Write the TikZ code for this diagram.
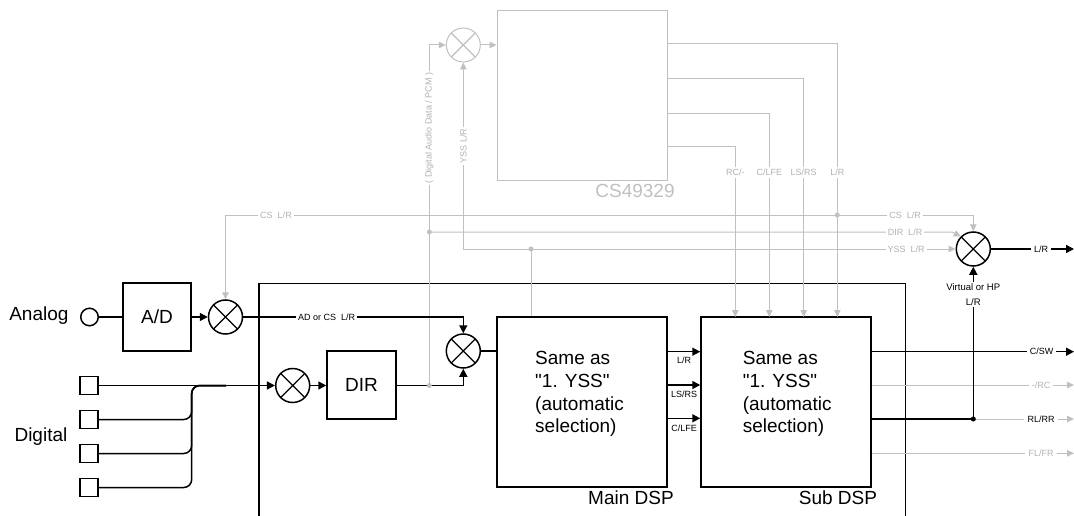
\documentclass[tikz,border=0pt]{standalone}
\usepackage{fontspec}
\setmainfont{Liberation Sans}
\font\qfont="Liberation Sans" at 19pt
\newcommand\sq{{\qfont"}}
\usetikzlibrary{arrows.meta,calc}
\definecolor{lg}{RGB}{192,192,192}
\definecolor{lgt}{RGB}{178,178,178}
\begin{document}
\begin{tikzpicture}[x=1pt,y=-1pt,
  blk/.style={line width=1.5pt,black},
  gry/.style={line width=1pt,lg},
  barr/.style={-{Triangle[length=8pt,width=8pt]}},
  garr/.style={-{Triangle[length=7pt,width=6.5pt]}},
  mixer/.style={circle,draw=#1,line width=1.5pt,minimum size=34pt,inner sep=0pt,
    path picture={\draw[#1,line width=1.3pt]
      (path picture bounding box.north west)--(path picture bounding box.south east)
      (path picture bounding box.north east)--(path picture bounding box.south west);}},
  mixer/.default=black,
  gmixer/.style={mixer=lg,line width=1pt},
  box/.style={draw,line width=1.5pt,inner sep=0pt},
  big/.style={font=\fontsize{19}{22.7}\selectfont},
  small/.style={font=\fontsize{9}{10.5}\selectfont},
  lbl/.style={small,inner sep=3pt},
  flbl/.style={small,fill=white,inner sep=2pt},
  glbl/.style={small,fill=white,inner sep=2pt,text=lgt},
  gdot/.style={circle,fill=lg,inner sep=0pt,minimum size=5pt},
  bdot/.style={circle,fill=black,inner sep=0pt,minimum size=5pt},
]
\useasboundingbox (0,0) rectangle (1074,516);

% ---------- nodes ----------
\node[big,anchor=east] (analog) at (72,316) {Analog};
\node[big,anchor=west] (digital) at (11,437) {Digital};
\node[circle,draw,line width=1.5pt,minimum size=17.5pt,inner sep=0pt] (an) at (89.5,317) {};
\node[box,big,minimum width=68pt,minimum height=68pt] (ad) at (157,317) {A/D};
\node[box,minimum size=18pt] (s1) at (89,385.5) {};
\node[box,minimum size=18pt] (s2) at (89,419.5) {};
\node[box,minimum size=18pt] (s3) at (89,453.5) {};
\node[box,minimum size=18pt] (s4) at (89,487.5) {};

\node[mixer] (m1) at (225.5,317) {};
\node[mixer] (m3) at (292.7,385.5) {};
\node[mixer] (m2) at (463.3,351) {};
\node[gmixer] (mg) at (463.3,45) {};
\node[mixer] (mf) at (973.3,249) {};

\node[box,big,minimum width=69pt,minimum height=68pt] (dir) at (361.5,385) {DIR};
\node[box,minimum width=170pt,minimum height=170pt] (main) at (582,402) {};
\node[box,minimum width=170pt,minimum height=170pt] (sub) at (786,402) {};
\node[box,draw=lg,line width=1pt,minimum width=170pt,minimum height=170pt] (cs) at (582,96) {};

\node[big,align=left,anchor=west] (maint) at (531.7,394) {Same as\\\sq 1. YSS\sq\\(automatic\\selection)};
\node[big,align=left,anchor=west] (subt) at (739.3,394) {Same as\\\sq 1. YSS\sq\\(automatic\\selection)};
\node[big] (mainl) at (631,498) {Main DSP};
\node[big] (subl) at (838,498) {Sub DSP};
\node[big,text=lg] (csl) at (635,191) {CS49329};

% container
\draw[blk] (259,530) -- (259,283.3) -- (905.7,283.3) -- (905.7,530);

% ---------- gray connectors ----------
\coordinate (dD1) at (429.3,385.5);
\coordinate (dD2) at (429.3,232);
\coordinate (yc) at (463.3,249);
\coordinate (dY) at (531,249);
\coordinate (dC) at (837.3,215);
\coordinate (cw) at (225.5,215);
\coordinate (ce) at (973.3,215);
\coordinate (dk) at (952,232);

\draw[gry,garr] (dD1) -- (429.3,45) -- (mg.west);
\draw[gry,garr] (mg.east) -- (cs.west |- mg);
\draw[gry,garr] (yc) -- (mg.south);
\draw[gry,garr] (yc) -- (mf.west);
\draw[gry] (dY) -- (dY |- main.north);
\draw[gry,garr] (dD2) -- (dk) -- (mf.135);
\draw[gry,garr] (dC) -- (cw) -- (m1.north);
\draw[gry,garr] (dC) -- (ce) -- (mf.north);

\draw[gry,garr] (cs.east |- 0,43.3) -- (837.3,43.3) -- (837.3,317);
\draw[gry,garr] (cs.east |- 0,79) -- (803.7,79) -- (803.7,317);
\draw[gry,garr] (cs.east |- 0,113.3) -- (769.3,113.3) -- (769.3,317);
\draw[gry,garr] (cs.east |- 0,146.7) -- (735.3,146.7) -- (735.3,317);

% ---------- black connectors ----------
\draw[blk] (an.east) -- (ad.west);
\draw[blk,barr] (ad.east) -- (m1.west);
\draw[blk,barr] (m1.east) -- (463.3,317) -- (m2.north);
\draw[blk,barr] (s1.east) -- (m3.west);
\draw[blk,rounded corners=8pt] (s2.east) -- (191.7,419.5) -- (191.7,385.5) -- (226,385.5);
\draw[blk,rounded corners=8pt] (s3.east) -- (191.7,453.5) -- (191.7,385.5) -- (226,385.5);
\draw[blk,rounded corners=8pt] (s4.east) -- (191.7,487.5) -- (191.7,385.5) -- (226,385.5);
\draw[blk,barr] (m3.east) -- (dir.west |- m3);
\draw[blk,barr] (dir.east |- m3) -- (463.3,385.5) -- (m2.south);
\draw[blk] (m2.east) -- (main.west |- m2);

\draw[blk,barr] (main.east |- 0,351.7) -- (sub.west |- 0,351.7);
\draw[blk,barr] (main.east |- 0,385) -- (sub.west |- 0,385);
\draw[blk,barr] (main.east |- 0,418.3) -- (sub.west |- 0,418.3);
\node[small] (lr1) at (684,360.5) {L/R};
\node[small] (lr2) at (684,394) {LS/RS};
\node[small] (lr3) at (684,428) {C/LFE};

% outputs
\coordinate (dR) at (973.3,419);
\node[lbl] (csw) at (1041.5,351.7) {C/SW};
\node[lbl,text=lgt] (rc) at (1041,385) {-/RC};
\node[lbl] (rlrr) at (1041,419) {RL/RR};
\node[lbl,text=lgt] (flfr) at (1041,453.3) {FL/FR};
\node[lbl] (lro) at (1041,249) {L/R};
\node[small,align=center,font=\fontsize{9.5}{15}\selectfont,inner sep=1pt] (virt) at (973.3,294.5) {Virtual or HP\\L/R};

\draw[blk] (sub.east |- csw) -- (csw.west);
\draw[blk,barr] (csw.east) -- (1074,351.7);
\draw[gry] (sub.east |- rc) -- (rc.west);
\draw[gry,garr] (rc.east) -- (1074,385);
\draw[blk] (sub.east |- rlrr) -- (dR);
\draw[gry] (dR) -- (rlrr.west);
\draw[gry,garr] (rlrr.east) -- (1074,419);
\draw[gry] (sub.east |- flfr) -- (flfr.west);
\draw[gry,garr] (flfr.east) -- (1074,453.3);
\draw[blk] (dR) -- (virt.south);
\draw[blk,barr] (virt.north) -- (mf.south);
\draw[blk] (mf.east) -- (lro.west);
\draw[blk,barr] (lro.east) -- (1074,249);

% ---------- labels on lines ----------
\node[glbl,rotate=90] (dadl) at (429.3,128) {( Digital Audio Data / PCM )};
\node[glbl,rotate=90] (yssl) at (463.3,146) {YSS L/R};
\node[glbl] (csl1) at (276,215) {CS\ \ L/R};
\node[glbl] (csl2) at (905,215) {CS\ \ L/R};
\node[glbl] (dirl) at (905,232) {DIR\ \ L/R};
\node[glbl] (yssl2) at (906,249) {YSS\ \ L/R};
\node[glbl] (o1) at (735.3,172.7) {RC/-};
\node[glbl] (o2) at (769.3,172.7) {C/LFE};
\node[glbl] (o3) at (803.7,172.7) {LS/RS};
\node[glbl] (o4) at (837.3,172.7) {L/R};
\node[flbl] (adcs) at (326.7,317) {AD or CS\ \ L/R};

% dots
\node[gdot] (g1) at (dD1) {};
\node[gdot] (g2) at (dD2) {};
\node[gdot] (g3) at (dY) {};
\node[gdot] (g4) at (dC) {};
\node[bdot] (b1) at (dR) {};
\end{tikzpicture}
\end{document}
